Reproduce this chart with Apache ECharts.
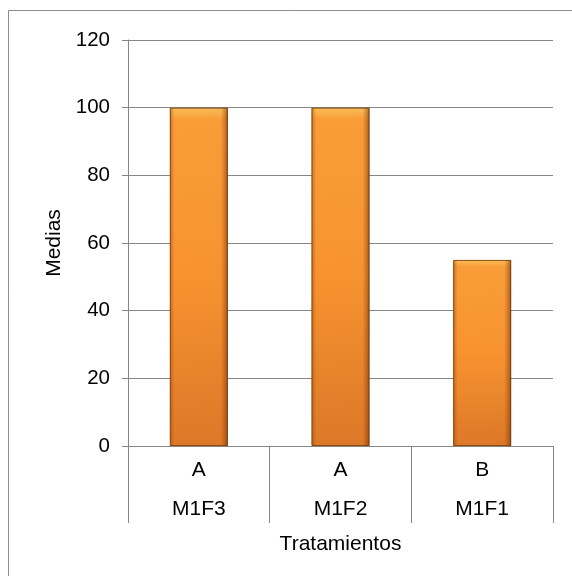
<!DOCTYPE html>
<html>
<head>
<meta charset="utf-8">
<script src="https://cdn.jsdelivr.net/npm/echarts@6/dist/echarts.min.js"></script>
<style>html,body{margin:0;padding:0;background:#fff}#c{width:572px;height:576px}</style>
</head>
<body>
<div id="c"></div>
<script>
var groups = ['A', 'A', 'B'];
var categories = ['M1F3', 'M1F2', 'M1F1'];
var values = [100, 100, 55];
var yTicks = {min: 0, max: 120, interval: 20};

var labels = categories.map(function (c, i) { return groups[i] + '\n' + c; });
var font = 'Liberation Sans, Arial, sans-serif';
var chart = echarts.init(document.getElementById('c'), null, {renderer: 'canvas'});
chart.setOption({
  animation: false,
  backgroundColor: '#fff',
  graphic: [{type: 'rect', shape: {x: 8.5, y: 10.5, width: 700, height: 700}, style: {fill: 'none', stroke: '#8c8c8c', lineWidth: 1}, silent: true}],
  grid: {left: 128, right: 19, top: 40, bottom: 130},
  xAxis: {
    type: 'category', data: labels,
    name: 'Tratamientos', nameLocation: 'middle', nameGap: 83,
    nameTextStyle: {fontFamily: font, fontSize: 21, color: '#000'},
    axisLine: {show: true, lineStyle: {color: '#868686', width: 1}},
    axisTick: {show: true, length: 77, interval: 0, lineStyle: {color: '#868686', width: 1}},
    axisLabel: {interval: 0, fontFamily: font, fontSize: 21, color: '#000', lineHeight: 39, margin: 5}
  },
  yAxis: {
    type: 'value', min: yTicks.min, max: yTicks.max, interval: yTicks.interval,
    name: 'Medias', nameLocation: 'middle', nameGap: 62, nameRotate: 90,
    nameTextStyle: {fontFamily: font, fontSize: 21, color: '#000'},
    axisLine: {show: true, lineStyle: {color: '#868686', width: 1}},
    axisTick: {show: true, length: 6, lineStyle: {color: '#868686', width: 1}},
    axisLabel: {fontFamily: font, fontSize: 20.5, color: '#000', margin: 18},
    splitLine: {show: true, lineStyle: {color: '#868686', width: 1}}
  },
  series: [
    {
      type: 'bar', data: values, barWidth: 58, z: 2,
      itemStyle: {
        color: new echarts.graphic.LinearGradient(0, 0, 0, 1, [
          {offset: 0, color: '#fdc35b'},
          {offset: 0.035, color: '#fda03a'},
          {offset: 0.5, color: '#fa9631'},
          {offset: 1, color: '#df7a29'}
        ]),
        borderColor: '#8d4c12', borderWidth: 1
      }
    },
    {
      type: 'bar', data: values, barWidth: 58, barGap: '-100%', z: 3, silent: true,
      itemStyle: {
        color: new echarts.graphic.LinearGradient(0, 0, 1, 0, [
          {offset: 0, color: 'rgba(140,60,0,0.45)'},
          {offset: 0.08, color: 'rgba(140,60,0,0.03)'},
          {offset: 0.88, color: 'rgba(120,50,0,0.03)'},
          {offset: 1, color: 'rgba(100,40,0,0.55)'}
        ]),
        borderWidth: 0
      }
    }
  ]
});
</script>
</body>
</html>
